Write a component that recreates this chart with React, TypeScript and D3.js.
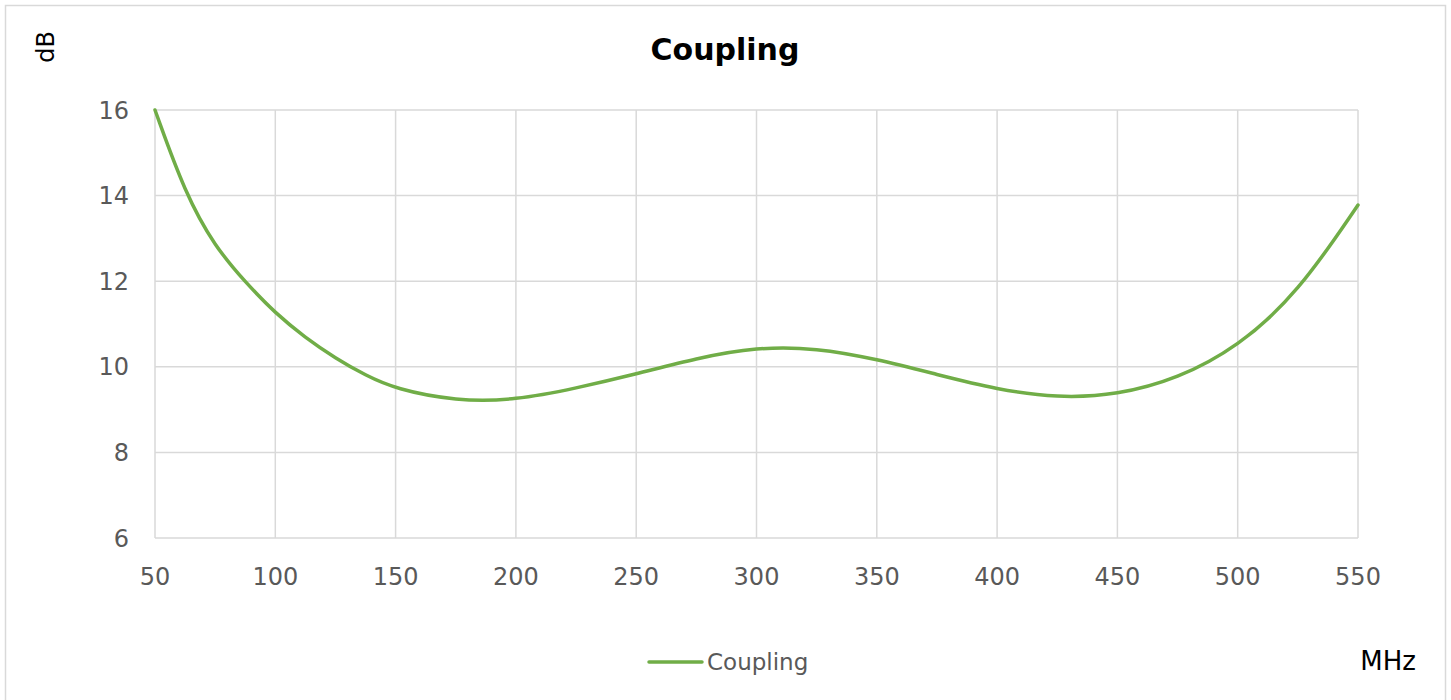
import React from "react";
import * as d3 from "d3";

const freqMHz = [50, 62.5, 75, 87.5, 100, 112.5, 125, 137.5, 150, 175, 200, 225, 250, 275, 300, 325, 350, 375, 400, 425, 450, 475, 500, 525, 550];
const couplingDb = [16.0, 14.05, 12.8, 11.98, 11.25, 10.68, 10.2, 9.8, 9.48, 9.2, 9.22, 9.5, 9.83, 10.2, 10.46, 10.44, 10.18, 9.82, 9.47, 9.27, 9.34, 9.72, 10.46, 11.72, 13.78];
const xTicks = [50, 100, 150, 200, 250, 300, 350, 400, 450, 500, 550];
const yTicks = [6, 8, 10, 12, 14, 16];
const title = "Coupling";
const seriesName = "Coupling";
const yUnit = "dB";
const xUnit = "MHz";

const W = 1451;
const H = 700;
const FONT = "'DejaVu Sans', Lato, sans-serif";

export default function App() {
  const x = d3.scaleLinear().domain([50, 550]).range([155, 1358]);
  const y = d3.scaleLinear().domain([6, 16]).range([538, 110]);
  const pts: [number, number][] = freqMHz.map((f, i) => [f, couplingDb[i]]);
  const line = d3
    .line<[number, number]>()
    .x((d) => x(d[0]))
    .y((d) => y(d[1]))
    .curve(d3.curveBasis);
  const grid = "#d9d9d9";
  const tickColor = "#595959";
  return (
    <svg
      width={W}
      height={H}
      style={{ position: "absolute", left: 0, top: 0, background: "#fff" }}
      fontFamily={FONT}
    >
      <rect x={5.5} y={5.5} width={1440} height={720} fill="#fff" stroke={grid} strokeWidth={1.5} />
      {yTicks.map((t) => (
        <line key={"h" + t} x1={x(50)} x2={x(550)} y1={y(t)} y2={y(t)} stroke={grid} strokeWidth={1.5} />
      ))}
      {xTicks.map((t) => (
        <line key={"v" + t} x1={x(t)} x2={x(t)} y1={y(16)} y2={y(6)} stroke={grid} strokeWidth={1.5} />
      ))}
      {yTicks.map((t) => (
        <text key={"yl" + t} x={129} y={y(t)} dy="0.36em" textAnchor="end" fontSize={24} fill={tickColor}>
          {t}
        </text>
      ))}
      {xTicks.map((t) => (
        <text key={"xl" + t} x={x(t)} y={585} textAnchor="middle" fontSize={24} fill={tickColor}>
          {t}
        </text>
      ))}
      <path d={line(pts) || ""} fill="none" stroke="#70ad47" strokeWidth={3.5} strokeLinecap="round" />
      <text x={725} y={60} textAnchor="middle" fontSize={30} fontWeight="bold" fill="#000">
        {title}
      </text>
      <text transform="translate(54,47) rotate(-90)" textAnchor="middle" fontSize={24} fill="#000">
        {yUnit}
      </text>
      <text x={1416} y={670} textAnchor="end" fontSize={26} fill="#000">
        {xUnit}
      </text>
      <line x1={649} x2={702} y1={662} y2={662} stroke="#70ad47" strokeWidth={3.5} strokeLinecap="round" />
      <text x={707} y={670} fontSize={23} fill={tickColor}>
        {seriesName}
      </text>
    </svg>
  );
}
